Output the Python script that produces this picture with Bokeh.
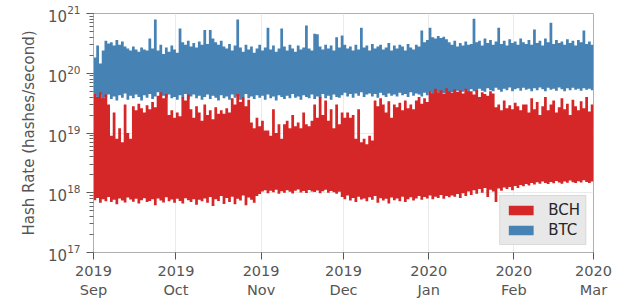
import pandas as pd
from bokeh.plotting import figure
from bokeh.models import Range1d, FixedTicker, Legend, LegendItem, ColumnDataSource
from bokeh.embed import file_html
from bokeh.resources import INLINE

START = "2019-09-01"
END = "2020-03-01"
TICK_DATES = ["2019-09-01", "2019-10-01", "2019-11-01", "2019-12-01",
              "2020-01-01", "2020-02-01", "2020-03-01"]
TICK_LABELS = ["2019\nSep", "2019\nOct", "2019\nNov", "2019\nDec",
               "2020\nJan", "2020\nFeb", "2020\nMar"]

# daily high / low of the hash-rate estimate, in EH/s (1e18 hashes/second)
BTC_HI = [184, 291, 146, 240, 350, 315, 330, 290, 360, 300,
          340, 280, 260, 240, 280, 250, 230, 270, 250, 240,
          380, 260, 790, 240, 300, 210, 270, 230, 290, 250,
          220, 560, 330, 300, 350, 280, 320, 270, 340, 300,
          530, 310, 530, 380, 330, 300, 350, 280, 260, 310,
          240, 290, 790, 270, 230, 300, 250, 280, 220, 260,
          300, 240, 270, 580, 250, 290, 230, 260, 560, 280,
          240, 300, 260, 230, 290, 250, 270, 630, 260, 240,
          460, 450, 280, 250, 300, 260, 290, 240, 400, 270,
          430, 300, 260, 280, 240, 300, 250, 580, 270, 290,
          240, 310, 260, 280, 300, 250, 270, 320, 240, 290,
          260, 300, 280, 240, 310, 270, 250, 300, 280, 520,
          330, 360, 580, 400, 380, 420, 390, 410, 370, 330,
          300, 350, 280, 320, 290, 340, 300, 310, 820, 330,
          350, 290, 380, 320, 360, 300, 340, 580, 310, 350,
          290, 370, 320, 340, 300, 380, 330, 310, 360, 300,
          540, 320, 350, 290, 380, 330, 700, 310, 360, 320,
          340, 300, 370, 320, 350, 290, 360, 330, 520, 310,
          340, 300]
BTC_LO = [42, 38, 45, 36, 40, 44, 37, 41, 35, 43,
          39, 46, 36, 42, 38, 44, 40, 35, 43, 39,
          45, 37, 41, 48, 36, 42, 39, 44, 38, 40,
          36, 43, 39, 45, 37, 41, 44, 38, 42, 36,
          40, 44, 37, 42, 39, 35, 43, 38, 41, 36,
          44, 39, 42, 36, 40, 45, 38, 41, 37, 43,
          39, 42, 36, 44, 38, 41, 35, 43, 40, 37,
          42, 38, 45, 39, 41, 36, 43, 40, 38, 44,
          37, 41, 39, 45, 38, 42, 36, 44, 40, 39,
          43, 47, 41, 45, 39, 46, 42, 48, 40, 44,
          46, 41, 45, 39, 47, 43, 40, 46, 42, 44,
          41, 47, 43, 45, 40, 48, 42, 46, 44, 41,
          47, 43, 49, 45, 42, 48, 44, 46, 50, 43,
          48, 45, 51, 44, 49, 52, 47, 54, 50, 48,
          55, 51, 49, 56, 52, 50, 57, 53, 49, 55,
          52, 58, 50, 54, 56, 51, 57, 53, 55, 50,
          56, 52, 58, 54, 50, 57, 53, 55, 51, 58,
          54, 50, 56, 52, 57, 53, 55, 51, 56, 53,
          55, 52]
BCH_HI = [45, 40, 48, 38, 44, 30, 9, 22, 8, 12,
          7, 30, 10, 8, 28, 24, 31, 26, 22, 29,
          25, 33, 27, 42, 48, 38, 45, 20, 24, 18,
          22, 19, 40, 35, 44, 25, 18, 28, 22, 16,
          30, 20, 24, 17, 27, 21, 24, 21, 26, 22,
          38, 30, 45, 33, 40, 28, 36, 15, 12, 18,
          13, 16, 11, 11, 9, 25, 10, 14, 8, 14,
          16, 12, 20, 13, 15, 12, 22, 14, 13, 16,
          30, 18, 40, 20, 35, 16, 25, 12, 30, 14,
          22, 18, 22, 18, 20, 8, 25, 7, 8, 6.5,
          9, 7.5, 35, 28, 38, 30, 22, 34, 18, 30,
          27, 32, 24, 35, 26, 30, 25, 35, 40, 31,
          38, 33, 50, 46, 55, 48, 52, 45, 56, 50,
          47, 54, 49, 52, 46, 55, 50, 50, 44, 52,
          40, 48, 45, 42, 50, 46, 27, 30, 24, 35,
          26, 29, 25, 32, 28, 24, 30, 30, 22, 38,
          25, 33, 20, 28, 40, 24, 30, 35, 22, 27,
          38, 25, 31, 20, 36, 28, 24, 34, 26, 40,
          23, 30]
BCH_LO = [0.75, 0.82, 0.68, 0.78, 0.72, 0.85, 0.70, 0.76, 0.64, 0.80,
          0.74, 0.69, 0.83, 0.77, 0.71, 0.79, 0.66, 0.75, 0.81, 0.70,
          0.73, 0.78, 0.62, 0.80, 0.74, 0.69, 0.84, 0.72, 0.77, 0.68,
          0.79, 0.73, 0.66, 0.81, 0.75, 0.70, 0.78, 0.63, 0.76, 0.72,
          0.80, 0.68, 0.85, 0.60, 0.78, 0.73, 0.88, 0.65, 0.82, 0.70,
          0.86, 0.64, 0.79, 0.74, 0.90, 0.62, 0.83, 0.76, 0.68, 0.88,
          0.95, 1.05, 1.10, 0.98, 1.08, 1.02, 1.12, 0.96, 1.06, 1.00,
          1.10, 1.04, 0.97, 1.08, 1.13, 1.01, 1.07, 0.99, 1.11, 1.05,
          1.03, 1.09, 0.98, 1.06, 1.12, 1.00, 1.07, 1.02, 0.96, 1.04,
          0.85, 0.78, 0.90, 0.74, 0.82, 0.70, 0.86, 0.77, 0.80, 0.72,
          0.84, 0.76, 0.88, 0.68, 0.81, 0.74, 0.79, 0.66, 0.83, 0.75,
          0.80, 0.72, 0.86, 0.70, 0.78, 0.84, 0.74, 0.80, 0.88, 0.76,
          0.85, 0.80, 0.90, 0.78, 0.86, 0.82, 0.92, 0.79, 0.88, 0.84,
          0.90, 0.86, 0.95, 0.82, 0.98, 0.88, 1.05, 0.92, 1.10, 0.96,
          1.15, 1.00, 1.20, 0.85, 1.12, 1.05, 0.70, 1.18, 1.08, 1.22,
          1.15, 1.25, 1.10, 1.30, 1.20, 1.35, 1.28, 1.40, 1.32, 1.45,
          1.38, 1.50, 1.42, 1.55, 1.46, 1.40, 1.52, 1.44, 1.58, 1.48,
          1.42, 1.55, 1.47, 1.60, 1.50, 1.45, 1.56, 1.48, 1.62, 1.52,
          1.46, 1.55]

UNIT = 1e18
BTC_COLOR = "#4682b4"
BCH_COLOR = "#d62728"
FONT = "DejaVu Sans"


def series_source(hi, lo):
    n = min(len(hi), len(lo))
    dates = list(pd.date_range(START, periods=n, freq="D"))
    top = [v * UNIT for v in hi[:n]]
    bottom = [v * UNIT for v in lo[:n]]
    # close the last step at the end of its day
    dates.append(dates[-1] + pd.Timedelta(days=1))
    top.append(top[-1])
    bottom.append(bottom[-1])
    return ColumnDataSource(dict(x=dates, top=top, bottom=bottom))


p = figure(frame_width=500, frame_height=239,
           x_axis_type="datetime", y_axis_type="log",
           x_range=Range1d(pd.Timestamp(START), pd.Timestamp(END)),
           y_range=Range1d(1e17, 1e21),
           output_backend="svg", toolbar_location=None,
           min_border_left=93, min_border_right=27,
           min_border_top=13, min_border_bottom=50)

btc = p.varea_step(x="x", y1="bottom", y2="top", step_mode="after",
                   source=series_source(BTC_HI, BTC_LO), fill_color=BTC_COLOR)
bch = p.varea_step(x="x", y1="bottom", y2="top", step_mode="after",
                   source=series_source(BCH_HI, BCH_LO), fill_color=BCH_COLOR)

tick_ms = [pd.Timestamp(d).value / 1e6 for d in TICK_DATES]
p.xaxis.ticker = FixedTicker(ticks=tick_ms)
p.xgrid.ticker = FixedTicker(ticks=tick_ms)
p.xaxis.major_label_overrides = {t: lab for t, lab in zip(tick_ms, TICK_LABELS)}

p.yaxis.axis_label = "Hash Rate (hashes/second)"

for ax in (p.xaxis[0], p.yaxis[0]):
    ax.axis_line_color = "#b0b0b0"
    ax.major_tick_line_color = "#555555"
    ax.minor_tick_line_color = "#666666"
    ax.major_tick_out = 7
    ax.major_tick_in = 0
    ax.minor_tick_out = 4
    ax.minor_tick_in = 0
    ax.major_label_text_font = FONT
    ax.major_label_text_font_size = "15px"
    ax.major_label_text_color = "#555555"
    ax.axis_label_text_font = FONT
    ax.axis_label_text_font_size = "15px"
    ax.axis_label_text_color = "#555555"
    ax.axis_label_text_font_style = "normal"
p.xaxis.major_label_text_font_size = "14.5px"
p.xaxis.major_label_standoff = 3
p.yaxis.major_label_standoff = 6
p.yaxis.axis_label_standoff = 7

p.grid.grid_line_color = "#ebebeb"
p.ygrid.minor_grid_line_color = None
p.outline_line_color = "#b0b0b0"
p.background_fill_color = "white"
p.border_fill_color = "white"

legend = Legend(items=[LegendItem(label="BCH", renderers=[bch]),
                       LegendItem(label="BTC", renderers=[btc])],
                location="bottom_right", margin=7, padding=5, spacing=2,
                glyph_width=31, glyph_height=12, label_standoff=12,
                label_text_font=FONT, label_text_font_size="15px",
                label_text_color="#262626",
                background_fill_color="#e8e8e8", background_fill_alpha=1.0,
                border_line_color="#cccccc")
p.add_layout(legend)

open("out.html", "w").write(file_html(p, INLINE))
